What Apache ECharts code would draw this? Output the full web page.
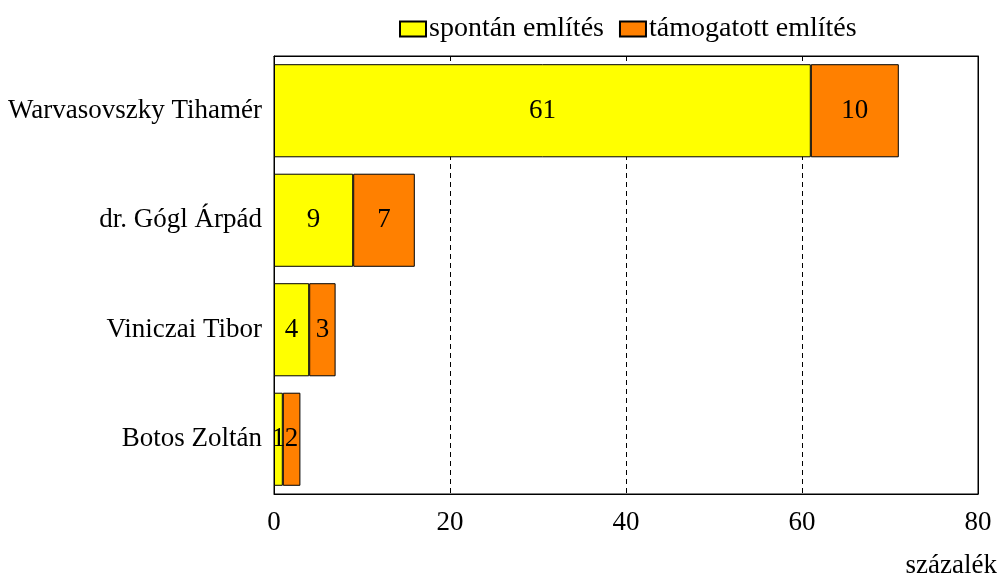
<!DOCTYPE html>
<html>
<head>
<meta charset="utf-8">
<script src="https://cdn.jsdelivr.net/npm/echarts@6/dist/echarts.min.js"></script>
<style>html,body{margin:0;padding:0;background:#fff}#c{width:998px;height:577px}</style>
</head>
<body>
<div id="c"></div>
<script>
var categories = ['Warvasovszky Tihamér', 'dr. Gógl Árpád', 'Viniczai Tibor', 'Botos Zoltán'];
var spontan = [61, 9, 4, 1];
var tamogatott = [10, 7, 3, 2];
var seriesNames = ['spontán említés', 'támogatott említés'];
var xTicks = [0, 20, 40, 60, 80];

var font = 'Liberation Serif, Times New Roman, serif';
var fs = 27;
var chart = echarts.init(document.getElementById('c'));
chart.setOption({
  animation: false,
  backgroundColor: '#fff',
  textStyle: { fontFamily: font, color: '#000' },
  title: {
    text: 'százalék', right: 1, top: 552, padding: 0,
    textStyle: { fontFamily: font, fontSize: fs, fontWeight: 'normal', color: '#000' }
  },
  legend: {
    data: seriesNames, top: 15, left: 399, padding: 0,
    itemWidth: 26, itemHeight: 15, itemGap: 15,
    icon: 'rect',
    textStyle: { fontFamily: font, fontSize: 28, color: '#000', padding: [0, 0, 0, -2] }
  },
  grid: {
    left: 274, right: 20, top: 56, bottom: 83,
    show: true, borderColor: '#000', borderWidth: 1, backgroundColor: 'transparent'
  },
  xAxis: [{
    type: 'value', min: xTicks[0], max: xTicks[xTicks.length - 1], interval: 20,
    axisLine: { show: true, lineStyle: { color: '#000' } },
    axisTick: { show: false },
    axisLabel: { fontFamily: font, fontSize: fs, color: '#000', margin: 15 },
    splitLine: { show: true, lineStyle: { color: '#000', type: [5, 4], width: 1 } }
  }, {
    type: 'value', position: 'top', min: xTicks[0], max: xTicks[xTicks.length - 1], interval: 20,
    axisLine: { show: true, onZero: false, lineStyle: { color: '#000' } },
    axisTick: { show: false }, axisLabel: { show: false }, splitLine: { show: false }
  }],
  yAxis: [{
    type: 'category', data: categories, inverse: true,
    axisLine: { show: true, lineStyle: { color: '#000' } },
    axisTick: { show: false },
    axisLabel: { fontFamily: font, fontSize: fs, color: '#000', margin: 12 }
  }, {
    type: 'category', data: categories, inverse: true, position: 'right',
    axisLine: { show: true, onZero: false, lineStyle: { color: '#000' } },
    axisTick: { show: false }, axisLabel: { show: false }, splitLine: { show: false }
  }],
  series: [
    {
      name: seriesNames[0], type: 'bar', stack: 's', data: spontan,
      barCategoryGap: '15%',
      itemStyle: { color: '#FFFF00', borderColor: '#000', borderWidth: 1 },
      label: { show: true, position: 'inside', fontFamily: font, fontSize: fs, color: '#000' }
    },
    {
      name: seriesNames[1], type: 'bar', stack: 's', data: tamogatott,
      barCategoryGap: '15%',
      itemStyle: { color: '#FF8000', borderColor: '#000', borderWidth: 1 },
      label: { show: true, position: 'inside', fontFamily: font, fontSize: fs, color: '#000' }
    }
  ]
});
</script>
</body>
</html>
